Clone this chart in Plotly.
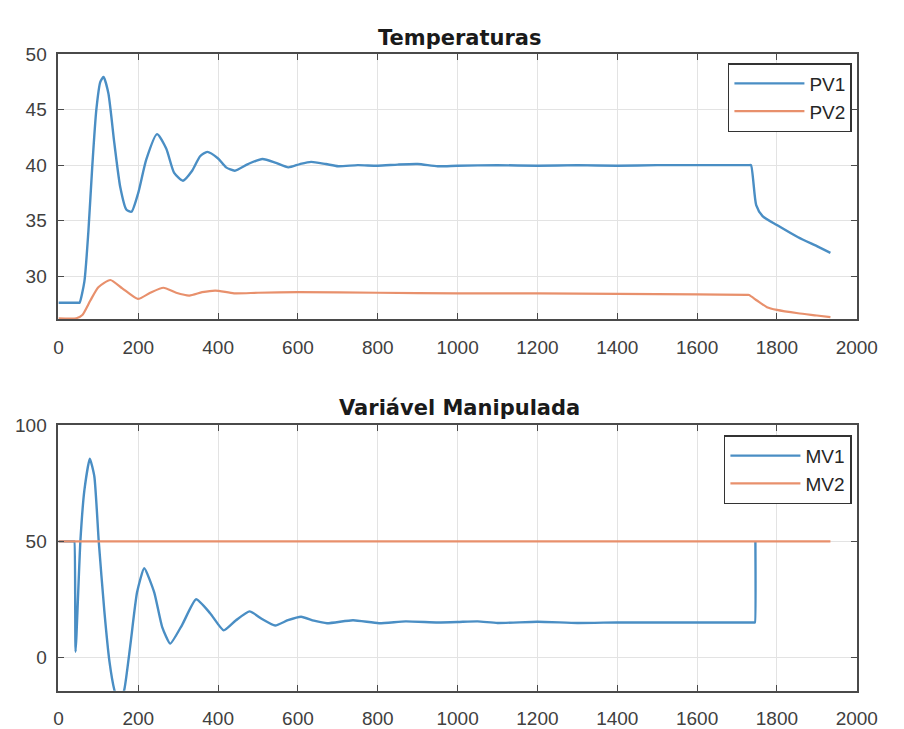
import plotly.graph_objects as go

# ---------------- data ----------------
t_pv1 = [0, 50, 53, 65, 75, 85, 95, 105, 113, 125, 140, 155, 170, 183, 200, 220, 247, 270, 290, 312,
         335, 355, 373, 400, 420, 442, 475, 511, 545, 576, 605, 633, 670, 701, 750, 800, 850, 900,
         950, 1000, 1100, 1200, 1300, 1400, 1500, 1600, 1700, 1730, 1735, 1748, 1764, 1800, 1853, 1900, 1934]
pv1 = [27.6, 27.6, 27.6, 29.5, 34.0, 40.0, 45.0, 47.5, 47.95, 46.5, 42.0, 38.0, 36.0, 35.8, 37.5, 40.5, 42.8,
       41.5, 39.3, 38.6, 39.5, 40.8, 41.2, 40.6, 39.8, 39.5, 40.1, 40.55, 40.2, 39.8, 40.1, 40.3, 40.1,
       39.9, 40.0, 39.95, 40.05, 40.1, 39.9, 39.95, 40.0, 39.95, 40.0, 39.95, 40.0, 40.0, 40.0, 40.0, 40.0,
       36.4, 35.4, 34.6, 33.5, 32.7, 32.1]

t_pv2 = [0, 45, 60, 80, 100, 130, 160, 199, 230, 263, 295, 328, 360, 393, 440, 500, 600, 800, 1000,
         1200, 1400, 1600, 1725, 1730, 1750, 1775, 1800, 1853, 1900, 1934]
pv2 = [26.2, 26.2, 26.5, 27.8, 29.0, 29.65, 28.9, 27.95, 28.5, 28.95, 28.5, 28.25, 28.55, 28.7, 28.45,
       28.5, 28.55, 28.5, 28.45, 28.45, 28.4, 28.35, 28.3, 28.3, 27.8, 27.2, 26.95, 26.65, 26.45, 26.3]

t_mv1 = [0, 39, 40, 43, 55, 65, 78.6, 90, 101, 115, 128, 140, 152, 165, 180, 197, 215, 240, 260, 280, 310,
         345, 380, 414, 445, 479, 510, 543, 575, 608, 640, 673, 738, 803, 870, 950, 1000, 1050, 1100,
         1200, 1300, 1400, 1500, 1600, 1700, 1744, 1745, 1746]
mv1 = [50, 50, 50, 2.4, 50, 72, 85.7, 78, 50, 20, -2, -14, -20, -14, 5, 28, 38.4, 28, 13, 5.9, 14,
       25, 19, 11.6, 16, 19.8, 16.5, 13.7, 16, 17.5, 15.8, 14.7, 16, 14.7, 15.5, 15, 15.2, 15.5, 14.8,
       15.3, 14.8, 15, 15, 15, 15, 15, 15, 50]

t_mv2 = [0, 1934]
mv2 = [50, 50]

x_ticks = [0, 200, 400, 600, 800, 1000, 1200, 1400, 1600, 1800, 2000]
y1_ticks = [30, 35, 40, 45, 50]
y2_ticks = [0, 50, 100]

titles = ["Temperaturas", "Variável Manipulada"]
names_top = ["PV1", "PV2"]
names_bot = ["MV1", "MV2"]

# ---------------- style ----------------
W, H = 904, 729
BLUE = "#4a8ec4"
ORANGE = "#e8906c"
AXIS = "#4a4a4a"
GRID = "#e3e3e3"
TICKC = "#404040"
FONT = "Liberation Sans, Arial, sans-serif"


def px_x(p):
    return p / W


def px_y(p):
    return 1 - p / H


fig = go.Figure()
fig.add_trace(go.Scatter(x=t_pv1, y=pv1, name=names_top[0], mode="lines",
                         line=dict(color=BLUE, width=2.4, shape="spline", smoothing=0.6),
                         xaxis="x", yaxis="y", legend="legend"))
fig.add_trace(go.Scatter(x=t_pv2, y=pv2, name=names_top[1], mode="lines",
                         line=dict(color=ORANGE, width=2.2, shape="spline", smoothing=0.6),
                         xaxis="x", yaxis="y", legend="legend"))
fig.add_trace(go.Scatter(x=t_mv1, y=mv1, name=names_bot[0], mode="lines",
                         line=dict(color=BLUE, width=2.4, shape="spline", smoothing=0.5),
                         xaxis="x2", yaxis="y2", legend="legend2"))
fig.add_trace(go.Scatter(x=t_mv2, y=mv2, name=names_bot[1], mode="lines",
                         line=dict(color=ORANGE, width=2.4),
                         xaxis="x2", yaxis="y2", legend="legend2"))

common_axis = dict(showline=True, linecolor=AXIS, linewidth=1.8, mirror="ticks",
                   ticks="inside", ticklen=6, tickcolor=AXIS, tickwidth=1.2,
                   showgrid=True, gridcolor=GRID, gridwidth=1, zeroline=False,
                   tickfont=dict(family=FONT, size=19, color=TICKC))

xdom = [px_x(55), px_x(877)]
legend_common = dict(xanchor="right", yanchor="top",
                     bgcolor="white", bordercolor="#333333", borderwidth=1.5,
                     font=dict(family=FONT, size=19, color="#262626"),
                     itemwidth=70, tracegroupgap=0)
fig.update_layout(
    width=W, height=H,
    margin=dict(l=0, r=0, t=0, b=0),
    paper_bgcolor="white", plot_bgcolor="white",
    showlegend=True,
    xaxis=dict(domain=xdom, anchor="y", range=[0, 2000], tickvals=x_ticks,
               ticklabelstandoff=10, **common_axis),
    yaxis=dict(domain=[px_y(315), px_y(45)], anchor="x", range=[26.1, 50], tickvals=y1_ticks,
               ticklabelstandoff=6, **common_axis),
    xaxis2=dict(domain=xdom, anchor="y2", range=[0, 2000], tickvals=x_ticks,
                ticklabelstandoff=10, **common_axis),
    yaxis2=dict(domain=[px_y(693), px_y(423)], anchor="x2", range=[-14.4, 100], tickvals=y2_ticks,
                ticklabelstandoff=6, **common_axis),
    legend=dict(x=px_x(872), y=px_y(54), **legend_common),
    legend2=dict(x=px_x(872), y=px_y(433), **legend_common),
    annotations=[
        dict(text="<b>" + titles[0] + "</b>", x=px_x(468), y=px_y(28), xref="paper", yref="paper",
             xanchor="center", yanchor="middle", showarrow=False,
             font=dict(family="DejaVu Sans", size=21, color="#1a1a1a")),
        dict(text="<b>" + titles[1] + "</b>", x=px_x(468), y=px_y(405), xref="paper", yref="paper",
             xanchor="center", yanchor="middle", showarrow=False,
             font=dict(family="DejaVu Sans", size=21, color="#1a1a1a")),
    ],
)

fig.write_html("out.html")
